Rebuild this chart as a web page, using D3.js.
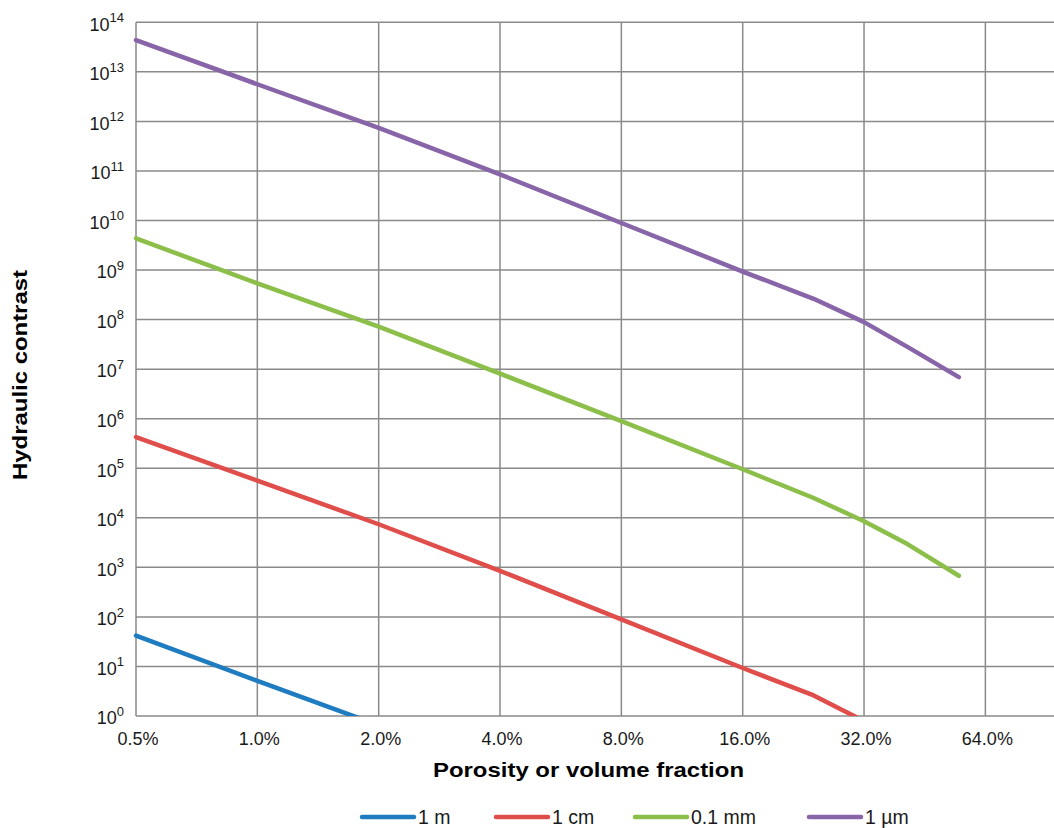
<!DOCTYPE html>
<html>
<head>
<meta charset="utf-8">
<script src="https://cdn.jsdelivr.net/npm/d3@7"></script>
<style>
  html, body { margin: 0; padding: 0; background: #fff; }
  svg { display: block; font-family: "Liberation Sans", Arial, sans-serif; }
</style>
</head>
<body>
<svg id="chart" width="1054" height="828"></svg>
<script>
// ---- data ----
const porosity = [0.005, 0.01, 0.02, 0.04, 0.08, 0.16, 0.24, 0.32, 0.41, 0.55];
const seriesNames = ["1 m", "1 cm", "0.1 mm", "1 \u00b5m"];
const seriesColors = ["#1f7cc1", "#e04e4b", "#8cbf4a", "#8864a8"];
const values1m   = [42, 5.1, 0.65];
const values1cm  = [4.27e5, 5.62e4, 7.41e3, 851, 89, 9.3, 2.6, 0.79];
const values01mm = [4.37e9, 5.37e8, 7.24e7, 8.13e6, 8.91e5, 9.55e4, 2.51e4, 8.51e3, 2.95e3, 676];
const values1um  = [4.37e13, 5.62e12, 7.41e11, 8.51e10, 8.91e9, 9.33e8, 2.63e8, 8.91e7, 2.82e7, 6.92e6];
const xTicks = [0.005, 0.01, 0.02, 0.04, 0.08, 0.16, 0.32, 0.64];
const xTickLabels = ["0.5%", "1.0%", "2.0%", "4.0%", "8.0%", "16.0%", "32.0%", "64.0%"];
const yExponents = [0,1,2,3,4,5,6,7,8,9,10,11,12,13,14];

const allSeries = [values1m, values1cm, values01mm, values1um];

(function () {
// ---- layout ----
const pL = 136, pR = 1063.5, pT = 22.3, pB = 716;
const svg = d3.select("#chart");

const x = d3.scaleLog().base(2).domain([0.005, 1]).range([pL, pR]);
const y = d3.scaleLog().domain([1, 1e14]).range([pB, pT]);

const gridColor = "#8a8a8a";

// horizontal gridlines
svg.append("g").selectAll("line").data(yExponents).join("line")
  .attr("x1", pL).attr("x2", pR)
  .attr("y1", d => y(Math.pow(10, d))).attr("y2", d => y(Math.pow(10, d)))
  .attr("stroke", gridColor).attr("stroke-width", 1.5);

// vertical gridlines
svg.append("g").selectAll("line").data(xTicks.concat([1])).join("line")
  .attr("x1", d => x(d)).attr("x2", d => x(d))
  .attr("y1", pT).attr("y2", pB)
  .attr("stroke", gridColor).attr("stroke-width", 1.5);

// y tick labels (10^n)
const yLab = svg.append("g").selectAll("text").data(yExponents).join("text")
  .attr("x", 124).attr("y", d => y(Math.pow(10, d)) + 8.3)
  .attr("text-anchor", "end").attr("fill", "#1a1a1a")
  .style("font-size", "18px");
yLab.append("tspan").text("10");
yLab.append("tspan").attr("dy", -8.5).style("font-size", "13px").text(d => d);

// x tick labels
svg.append("g").selectAll("text").data(xTicks).join("text")
  .attr("x", (d) => x(d) + 2).attr("y", 745)
  .attr("text-anchor", "middle").attr("fill", "#1a1a1a")
  .style("font-size", "18px")
  .text((d, i) => xTickLabels[i]);

// clip for lines
svg.append("clipPath").attr("id", "plotclip").append("rect")
  .attr("x", pL - 5).attr("y", pT - 5).attr("width", pR - pL + 10).attr("height", pB - pT + 5);

const line = d3.line().x(d => x(d[0])).y(d => y(d[1]));
svg.append("g").attr("clip-path", "url(#plotclip)")
  .selectAll("path").data(allSeries).join("path")
  .attr("d", vals => line(vals.map((v, i) => [porosity[i], v])))
  .attr("fill", "none")
  .attr("stroke", (d, i) => seriesColors[i])
  .attr("stroke-width", 4.5)
  .attr("stroke-linecap", "round")
  .attr("stroke-linejoin", "round");

// axis titles
svg.append("text")
  .attr("x", 588.5).attr("y", 777)
  .attr("text-anchor", "middle").attr("fill", "#000")
  .style("font-size", "21px").style("font-weight", "bold")
  .attr("textLength", 311).attr("lengthAdjust", "spacingAndGlyphs")
  .text("Porosity or volume fraction");

svg.append("text")
  .attr("transform", "translate(27.3,375) rotate(-90)")
  .attr("text-anchor", "middle").attr("fill", "#000")
  .style("font-size", "19.5px").style("font-weight", "bold")
  .attr("textLength", 210).attr("lengthAdjust", "spacingAndGlyphs")
  .text("Hydraulic contrast");

// legend
const legendX = [362, 496, 635, 809];
const lg = svg.append("g").selectAll("g").data(seriesNames).join("g")
  .attr("transform", (d, i) => `translate(${legendX[i]},817)`);
lg.append("line").attr("x1", 0).attr("x2", 52).attr("y1", 0).attr("y2", 0)
  .attr("stroke", (d, i) => seriesColors[i]).attr("stroke-width", 4.5)
  .attr("stroke-linecap", "round");
lg.append("text").attr("x", 56).attr("y", 7)
  .attr("fill", "#1a1a1a").style("font-size", "19.5px")
  .text(d => d);
})();
</script>
</body>
</html>
